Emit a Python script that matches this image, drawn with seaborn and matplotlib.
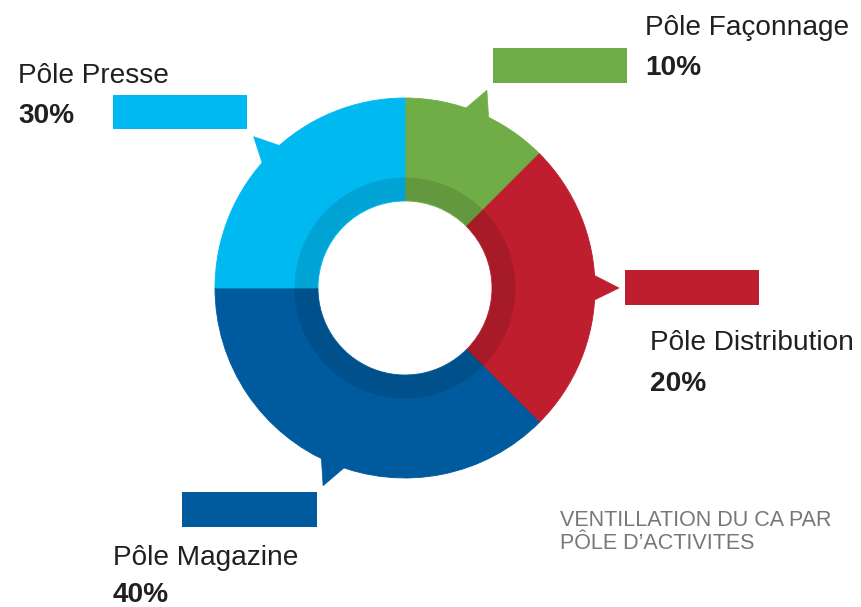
import numpy as np
import matplotlib.pyplot as plt
import seaborn as sns
from matplotlib.patches import Polygon, Rectangle

# données (ordre horaire depuis midi)
poles = ["Pôle Façonnage", "Pôle Distribution", "Pôle Magazine", "Pôle Presse"]
pct_labels = ["10%", "20%", "40%", "30%"]
shares = [12.5, 25, 37.5, 25]  # taille des arcs tels que dessinés
colors = ["#71ad47", "#be1e2d", "#005b9e", "#00b9f0"]
caption = ["VENTILLATION DU CA PAR", "PÔLE D’ACTIVITES"]

# mise en page (pixels, origine en haut à gauche)
W, H = 861, 607
CX, CY = 405, 288
rects = [(493, 48, 627, 83), (625, 270, 759, 305), (182, 492, 317, 527), (113, 95, 247, 129)]
label_pos = [(645, 35, 75), (650, 350, 391), (113, 565, 602), (18, 83, 123)]


def Y(y):
    return H - y


sns.set_theme(style="white")
plt.rcParams['font.family'] = ['Liberation Sans', 'DejaVu Sans']

palette = sns.color_palette(colors)
dark = [tuple(c * 0.88 for c in col) for col in palette]

fig = plt.figure(figsize=(W / 100, H / 100), dpi=100)
ax = fig.add_axes([0, 0, 1, 1])

# anneau principal
wedges, _ = ax.pie(shares, colors=palette, startangle=90, counterclock=False,
                   radius=190, center=(CX, Y(CY)),
                   wedgeprops=dict(width=103, linewidth=0.6))
# anneau intérieur plus sombre
inner, _ = ax.pie(shares, colors=dark, startangle=90, counterclock=False,
                  radius=110, center=(CX, Y(CY)),
                  wedgeprops=dict(width=22, linewidth=0.6))
for w in list(wedges) + list(inner):
    w.set_edgecolor(w.get_facecolor())

# petites pointes au milieu de chaque part
for w, col in zip(wedges, palette):
    mid = np.deg2rad((w.theta1 + w.theta2) / 2)
    pts = []
    for ang, r in [(mid + np.deg2rad(4.5), 186), (mid, 214), (mid - np.deg2rad(4.3), 186)]:
        pts.append((CX + r * np.cos(ang), Y(CY) + r * np.sin(ang)))
    ax.add_patch(Polygon(pts, closed=True, facecolor=col, edgecolor=col, lw=0.5))

# rectangles de couleur + libellés
for (x0, y0, x1, y1), col in zip(rects, palette):
    ax.add_patch(Rectangle((x0, Y(y1)), x1 - x0, y1 - y0, facecolor=col, edgecolor='none'))

for name, pct, (x, yn, yp) in zip(poles, pct_labels, label_pos):
    ax.text(x, Y(yn), name, fontsize=20.2, color='#231f20', va='baseline', ha='left')
    ax.text(x, Y(yp), pct, fontsize=20.2, color='#231f20', fontweight='bold',
            va='baseline', ha='left')

ax.text(560, Y(526), caption[0], fontsize=15.5, color='#777777', va='baseline')
ax.text(560, Y(549), caption[1], fontsize=15.5, color='#777777', va='baseline')

ax.set_xlim(0, W)
ax.set_ylim(0, H)
ax.set_aspect('equal')
ax.axis('off')

fig.savefig('out.png', dpi=100)
